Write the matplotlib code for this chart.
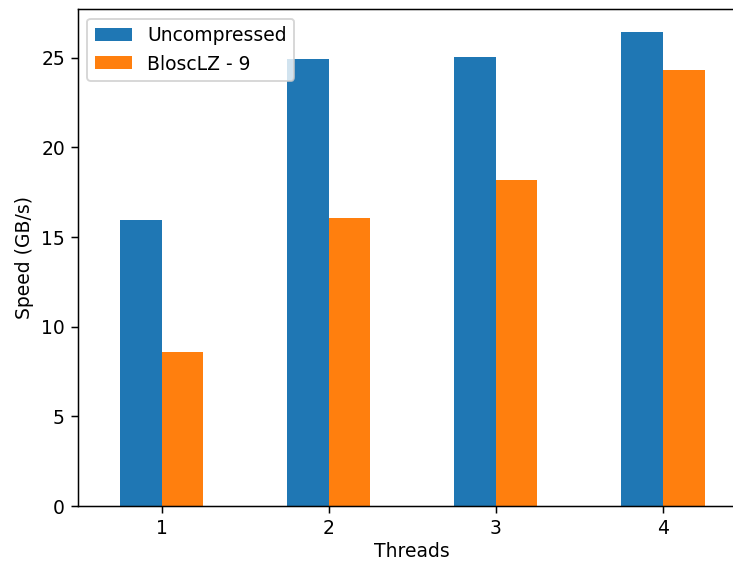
import matplotlib
matplotlib.use("Agg")
import matplotlib.pyplot as plt
import numpy as np

threads = ["1", "2", "3", "4"]
uncompressed = [15.95, 24.93, 25.02, 26.44]
blosclz9 = [8.59, 16.08, 18.18, 24.33]

DPI = 134.7
fig = plt.figure(figsize=(733.3 / DPI, 561.3 / DPI), dpi=DPI)
ax = fig.add_axes([78 / 733, 55 / 561, 668 / 733, 496.5 / 561])

x = np.arange(len(threads))
w = 0.25
ax.bar(x - w / 2, uncompressed, w, color="#1f77b4", label="Uncompressed")
ax.bar(x + w / 2, blosclz9, w, color="#ff7f0e", label="BloscLZ - 9")
ax.set_xlim(-0.5, len(threads) - 0.5)
ax.set_ylim(0, 27.7)
ax.set_xticks(x)
ax.set_xticklabels(threads)
ax.set_yticks([0, 5, 10, 15, 20, 25])
ax.set_xlabel("Threads", labelpad=1.8)
ax.set_ylabel("Speed (GB/s)")
ax.legend(loc="upper left")

fig.savefig("out.png", dpi=DPI)
